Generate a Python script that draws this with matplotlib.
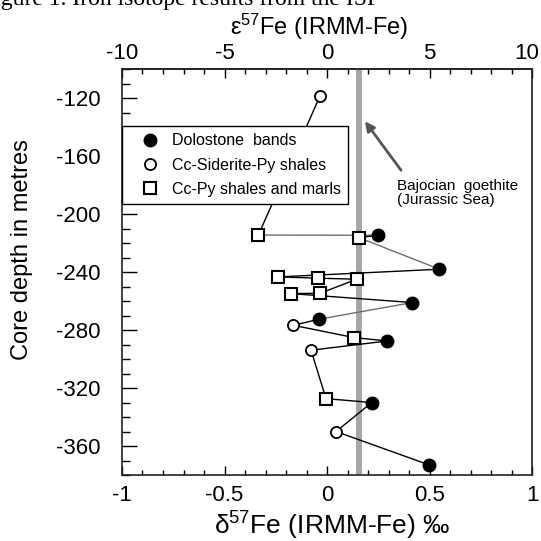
import matplotlib
matplotlib.use('Agg')
import matplotlib.pyplot as plt
from matplotlib.ticker import MultipleLocator, FuncFormatter
import numpy as np

plt.rcParams['font.family'] = ['Liberation Sans', 'DejaVu Sans']
plt.rcParams['mathtext.fontset'] = 'custom'
plt.rcParams['mathtext.rm'] = 'Liberation Sans'
plt.rcParams['mathtext.it'] = 'Liberation Sans:italic'
plt.rcParams['axes.unicode_minus'] = False

# Samples, sorted by core depth (m)
depth = [-118.4, -214.4, -214.6, -216.2, -238.0, -243.3, -244.2, -244.9,
         -254.6, -254.8, -261.0, -272.5, -276.7, -285.2, -287.5, -293.9,
         -327.3, -330.0, -350.0, -373.1]
d57fe = [-0.034, -0.335, 0.247, 0.156, 0.548, -0.237, -0.042, 0.145,
         -0.034, -0.177, 0.416, -0.039, -0.164, 0.132, 0.294, -0.078,
         -0.005, 0.218, 0.044, 0.499]
litho = ['sid', 'py', 'dol', 'py', 'dol', 'py', 'py', 'py',
         'py', 'py', 'dol', 'dol', 'sid', 'py', 'dol', 'sid',
         'py', 'dol', 'sid', 'dol']
# links drawn in grey instead of black (index of first sample)
grey_links = [1, 3, 10]

goethite = 0.155  # Bajocian goethite value

labels = {'dol': 'Dolostone  bands',
          'sid': 'Cc-Siderite-Py shales',
          'py': 'Cc-Py shales and marls'}

depth = np.array(depth)
d57fe = np.array(d57fe)
litho = np.array(litho)

fig = plt.figure(figsize=(5.41, 5.41), dpi=100)
ax = fig.add_axes([0.2255, 0.122, 0.758, 0.750])

# vertical goethite band
ax.axvline(goethite, color='#a6a6a6', lw=4.3, zorder=1)

# connecting line, segment by segment
for i in range(len(depth) - 1):
    c = '#6e6e6e' if i in grey_links else 'black'
    ax.plot(d57fe[i:i + 2], depth[i:i + 2], color=c, lw=1.0, zorder=2)

m = litho == 'dol'
ax.plot(d57fe[m], depth[m], 'o', ms=9, mfc='black', mec='black',
        ls='none', zorder=3, label=labels['dol'])
m = litho == 'sid'
ax.plot(d57fe[m], depth[m], 'o', ms=8, mfc='white', mec='black', mew=1.3,
        ls='none', zorder=3, label=labels['sid'])
m = litho == 'py'
ax.plot(d57fe[m], depth[m], 's', ms=9, mfc='white', mec='black', mew=1.5,
        ls='none', zorder=3, label=labels['py'])

ax.set_xlim(-1, 1)
ax.set_ylim(-380, -100)

ax.xaxis.set_major_locator(MultipleLocator(0.5))
ax.xaxis.set_minor_locator(MultipleLocator(0.1))
ax.yaxis.set_major_locator(MultipleLocator(40))
ax.yaxis.set_minor_locator(MultipleLocator(10))
fmt = FuncFormatter(lambda v, p: '%g' % v)
ax.xaxis.set_major_formatter(fmt)
ax.yaxis.set_major_formatter(fmt)

ax.tick_params(axis='x', which='major', direction='in', length=6.5, width=1,
               labelsize=16, pad=7, top=False)
ax.tick_params(axis='x', which='minor', direction='in', length=3.6, width=1, top=False)
ax.tick_params(axis='y', which='major', direction='in', length=11, width=1,
               labelsize=16, pad=15.5, right=False)
ax.tick_params(axis='y', which='minor', direction='in', length=6, width=1, right=False)

for s in ax.spines.values():
    s.set_linewidth(1.2)
    s.set_color('#222222')

# epsilon scale on top (last label placed by hand so it stays inside)
sec = ax.secondary_xaxis('top', functions=(lambda x: x * 10, lambda e: e / 10))
sec.xaxis.set_major_locator(MultipleLocator(5))
sec.xaxis.set_minor_locator(MultipleLocator(1))
sec.xaxis.set_major_formatter(FuncFormatter(lambda v, p: '' if v >= 10 else '%g' % v))
sec.tick_params(axis='x', which='major', direction='in', length=6.5, width=1,
                labelsize=16, pad=3.5)
sec.tick_params(axis='x', which='minor', direction='in', length=3.6, width=1)
sec.spines['top'].set_linewidth(1.2)
sec.spines['top'].set_color('#222222')
fig.text(539 / 541, 1 - 59 / 541, '10', fontsize=16, ha='right', va='baseline')

leg = ax.legend(loc='upper left', bbox_to_anchor=(0.0, 0.860), fontsize=11.5,
                frameon=True, fancybox=False, framealpha=1, edgecolor='black',
                borderaxespad=0, handletextpad=0.1, labelspacing=0.58,
                borderpad=0.45, handlelength=2.6)
leg.get_frame().set_linewidth(1.0)
leg.set_zorder(5)

ax.annotate('Bajocian  goethite\n(Jurassic Sea)', xy=(0.341, -175.5),
            fontsize=11, ha='left', va='top', linespacing=1.0)
ax.annotate('', xy=(0.185, -135.9), xytext=(0.361, -169.7),
            arrowprops=dict(arrowstyle='-|>', color='#555555', lw=2.0,
                            mutation_scale=14, shrinkA=0, shrinkB=0))

fig.text(319.5 / 541, 1 - 35 / 541, 'ε$^{57}$Fe (IRMM-Fe)', fontsize=17,
         ha='center', va='baseline')
fig.text(332 / 541, 1 - 535 / 541, 'δ$^{57}$Fe (IRMM-Fe) ‰', fontsize=19,
         ha='center', va='baseline')
fig.text(22 / 541, 1 - 250 / 541, 'Core depth in metres', fontsize=17,
         rotation=90, ha='center', va='center')
fig.text(-19 / 541, 1 - 4.5 / 541, 'Figure 1. Iron isotope results from the ISF',
         fontsize=17, family='Liberation Serif', ha='left', va='baseline')

fig.savefig('out.png', dpi=100)
